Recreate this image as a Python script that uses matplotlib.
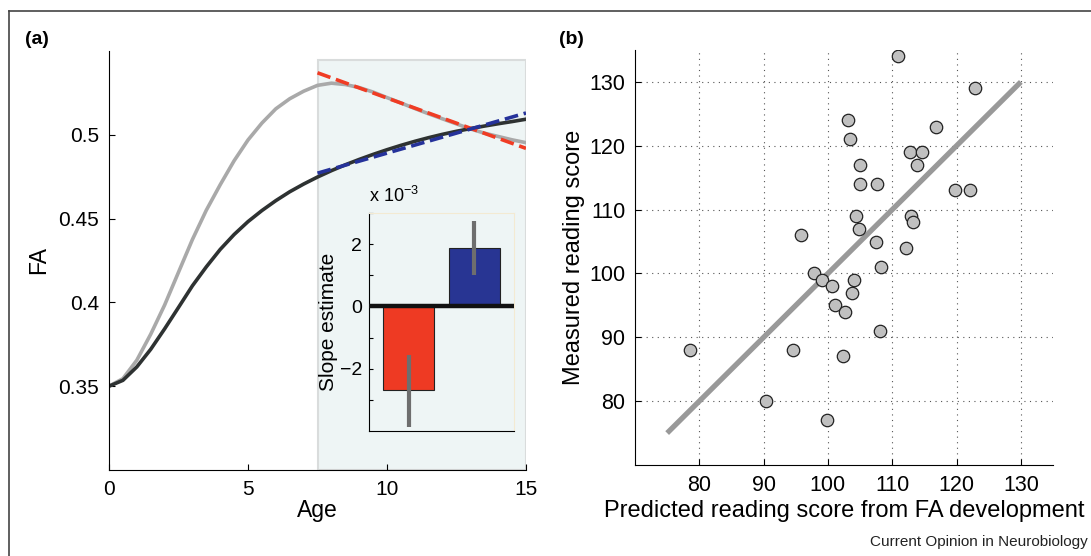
import matplotlib
matplotlib.use("Agg")
import matplotlib.pyplot as plt
from matplotlib.patches import Rectangle
from matplotlib.lines import Line2D

plt.rcParams['font.family'] = ['Liberation Sans', 'DejaVu Sans']

# ---- panel (a): FA development curves ----
age = [0, 0.5, 1, 1.5, 2, 2.5, 3, 3.5, 4, 4.5, 5, 5.5, 6, 6.5, 7, 7.5,
       8, 8.5, 9, 9.5, 10, 10.5, 11, 11.5, 12, 12.5, 13, 13.5, 14, 14.5, 15]
fa_light = [0.350, 0.3545, 0.3655, 0.381, 0.3984, 0.418, 0.4375, 0.455, 0.4702, 0.4845,
            0.4969, 0.507, 0.5155, 0.5215, 0.526, 0.5295, 0.5308, 0.530, 0.5282, 0.5255,
            0.5222, 0.519, 0.5157, 0.5125, 0.5095, 0.5065, 0.5035, 0.5010, 0.4990, 0.4970, 0.4953]
fa_dark = [0.350, 0.3535, 0.3615, 0.372, 0.3842, 0.397, 0.4099, 0.4212, 0.4316, 0.4405,
           0.4482, 0.4548, 0.4607, 0.4660, 0.4706, 0.4748, 0.4786, 0.4821, 0.4853, 0.4883,
           0.4911, 0.4937, 0.4961, 0.4983, 0.5003, 0.5021, 0.5037, 0.5052, 0.5066, 0.5079, 0.5093]

# linear fits over the shaded window
fit_age = [7.5, 15]
fit_light = [0.537, 0.4919]
fit_dark = [0.4771, 0.5130]
window = (7.5, 15)

# inset: slope estimates (x 10^-3)
slope_pos = [1, 2]
slope_val = [-2.68, 1.88]
slope_lo = [-3.87, 1.00]
slope_hi = [-1.55, 2.74]
slope_colors = ['#ee3a23', '#283593']

# ---- panel (b): predicted vs measured reading score ----
predicted = [110.9, 122.9, 103.1, 103.5, 116.8, 112.8, 114.7, 113.8, 105.0, 105.0,
             107.6, 119.7, 122.1, 104.3, 112.9, 113.3, 104.8, 95.8, 107.4, 112.2,
             108.3, 97.8, 99.1, 104.0, 100.7, 103.8, 101.1, 102.7, 108.1, 78.5,
             94.5, 102.4, 90.3, 99.9]
measured = [134, 129, 124, 121, 123, 119, 119, 117, 117, 114,
            114, 113, 113, 109, 109, 108, 107, 106, 105, 104,
            101, 100, 99, 99, 98, 97, 95, 94, 91, 88,
            88, 87, 80, 77]
line_x = [75, 130]
line_y = [75, 130]

W, H = 1091, 556
fig = plt.figure(figsize=(W / 100, H / 100), dpi=100)


def box(x0, y0, x1, y1):
    return [x0 / W, 1 - y1 / H, (x1 - x0) / W, (y1 - y0) / H]


shade = '#eef5f5'

# panel (a)
ax = fig.add_axes(box(109, 51, 526, 470))
ax.add_patch(Rectangle((window[0], 0.30), window[1] - window[0], 0.2447,
                       facecolor=shade, edgecolor='#d9dcdc', lw=1.5, zorder=0))
ax.plot(age, fa_light, color='#a9a9a9', lw=2.6, zorder=2)
ax.plot(age, fa_dark, color='#2e3232', lw=2.6, zorder=2)
ax.plot(fit_age, fit_light, color='#f03c24', lw=2.6, ls=(0, (3.8, 1.6)), zorder=3)
ax.plot(fit_age, fit_dark, color='#25329a', lw=2.6, ls=(0, (3.8, 1.6)), zorder=3)
ax.set_xlim(0, 15)
ax.set_ylim(0.30, 0.55)
ax.set_xticks([0, 5, 10, 15])
ax.set_yticks([0.35, 0.4, 0.45, 0.5])
ax.set_yticklabels(['0.35', '0.4', '0.45', '0.5'])
for s in ['top', 'right']:
    ax.spines[s].set_visible(False)
ax.tick_params(direction='in', length=4, labelsize=15, pad=7)
ax.set_xlabel('Age', fontsize=16.5, labelpad=0)
ax.set_ylabel('FA', fontsize=16.5, labelpad=6)

# inset
ai = fig.add_axes(box(369, 213, 514, 431))
ai.set_facecolor(shade)
ai.bar(slope_pos, slope_val, width=0.78, color=slope_colors, edgecolor='#222222', lw=0.8, zorder=2)
ai.vlines(slope_pos, slope_lo, slope_hi, color='#6e6e6e', lw=3, zorder=3)
ai.axhline(0, color='#111111', lw=3.2, zorder=4)
ai.set_xlim(0.4, 2.6)
ai.set_ylim(-4, 3)
ai.set_xticks([])
ai.set_yticks([-3, -2, -1, 0, 1, 2, 3])
ai.set_yticklabels(['', '\u22122', '', '0', '', '2', ''])
ai.tick_params(direction='in', length=3, labelsize=14, pad=5)
ai.spines['top'].set_color('#f3ead2')
ai.spines['right'].set_color('#f3ead2')
ai.set_ylabel('Slope estimate', fontsize=15, labelpad=1)
ai.text(0, 1.03, 'x 10$^{\\mathregular{\u22123}}$', transform=ai.transAxes,
        fontsize=13, ha='left', va='bottom')

# panel (b)
bx = fig.add_axes(box(635, 50, 1053, 465))
bx.plot(line_x, line_y, color='#999999', lw=3.8, solid_capstyle='butt', zorder=2)
bx.scatter(predicted, measured, s=80, facecolor='#c0c0c0', edgecolor='#222222',
           linewidth=0.9, zorder=3)
bx.set_xlim(70, 135)
bx.set_ylim(70, 135)
bx.set_xticks(range(80, 131, 10))
bx.set_yticks(range(80, 131, 10))
bx.grid(True, ls=(0, (1, 4)), color='#555555', lw=0.8)
for s in ['top', 'right']:
    bx.spines[s].set_visible(False)
bx.tick_params(direction='in', length=4, labelsize=15.5, pad=7)
bx.set_xlabel('Predicted reading score from FA development', fontsize=17, labelpad=3)
bx.set_ylabel('Measured reading score', fontsize=17, labelpad=3)

# panel letters, frame, footer
fig.text(25 / W, 1 - 39 / H, '(a)', fontsize=14, fontweight='bold', va='center')
fig.text(559 / W, 1 - 39 / H, '(b)', fontsize=14, fontweight='bold', va='center')
fig.text(1088 / W, 1 - 542 / H, 'Current Opinion in Neurobiology', fontsize=11,
         ha='right', va='center', color='#222222')
fig.add_artist(Line2D([9 / W, 9 / W], [0, 1 - 11 / H], color='#444444', lw=1.2))
fig.add_artist(Line2D([9 / W, 1], [1 - 11 / H, 1 - 11 / H], color='#444444', lw=1.2))

fig.savefig('out.png', dpi=100)
